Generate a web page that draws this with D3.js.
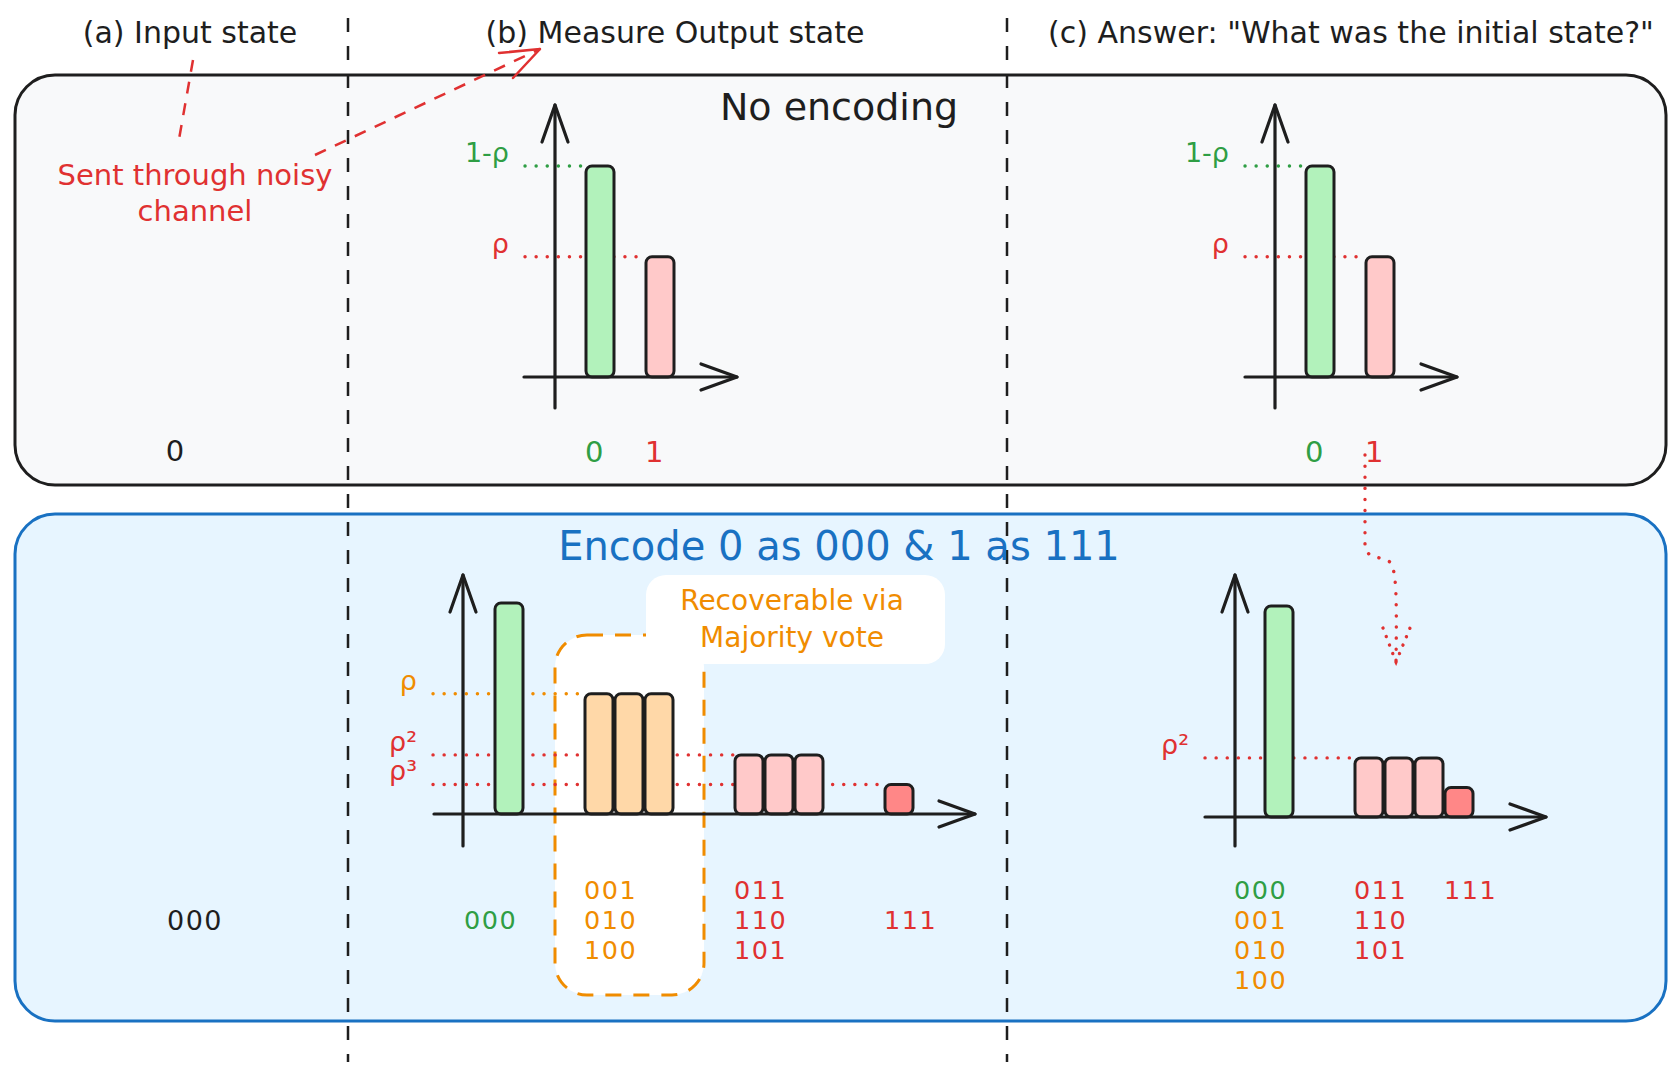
<!DOCTYPE html>
<html>
<head>
<meta charset="utf-8">
<script src="https://cdn.jsdelivr.net/npm/d3@7"></script>
<style>
  html, body { margin: 0; background: #ffffff; }
  svg { display: block; }
  text { font-family: "DejaVu Sans", sans-serif; }
</style>
</head>
<body>
<svg id="chart" width="1680" height="1083"></svg>
<script>
// Headings
const columnTitles = ['(a) Input state', '(b) Measure Output state', '(c) Answer: "What was the initial state?"'];
const rowTitles = ['No encoding', 'Encode 0 as 000 & 1 as 111'];
const inputStates = ['0', '000'];
const noiseNote = ['Sent through noisy', 'channel'];
const voteNote = ['Recoverable via', 'Majority vote'];

// No encoding: one bit after the noisy channel
const plainStates = ['0', '1'];
const plainProb = [1.0, 0.57];          // bar height relative to the tallest bar
const plainKind = ['ok', 'err'];
const plainGroup = [0, 1];
const plainLevelText = ['1-ρ', 'ρ'];
const plainLevelBar = ['0', '1'];

// Encoded: three bits after the noisy channel
const codeStates = ['000', '001', '010', '100', '011', '110', '101', '111'];
const codeProb = [1.0, 0.57, 0.57, 0.57, 0.28, 0.28, 0.28, 0.14];
const codeKind = ['ok', 'fix', 'fix', 'fix', 'err', 'err', 'err', 'err3'];
const codeGroup = [0, 1, 1, 1, 2, 2, 2, 3];
const codeLevelText = ['ρ', 'ρ²', 'ρ³'];
const codeLevelBar = ['001', '011', '111'];

// After the majority vote
const voteStates = ['000', '011', '110', '101', '111'];
const voteProb = [1.0, 0.28, 0.28, 0.28, 0.14];
const voteGroup = [0, 1, 1, 1, 1];
const voteLabelCols = [['000', '001', '010', '100'], ['011', '110', '101'], ['111']];
const voteLabelBar = ['000', '011', '111'];
const voteLevelText = ['ρ²'];
const voteLevelBar = ['011'];

const INK = '#1e1e1e';
const SLOT = 30, BAR_H = 211, ROW = 30;
const fillOf = d3.scaleOrdinal().domain(['ok', 'fix', 'err', 'err3']).range(['#b2f2bb', '#ffd8a8', '#ffc9c9', '#ff8787']);
const inkOf = d3.scaleOrdinal().domain(['ok', 'fix', 'err', 'err3']).range(['#2f9e44', '#f08c00', '#e03131', '#e03131']);
const kindOf = new Map();
plainStates.forEach((s, i) => kindOf.set('p' + s, plainKind[i]));
codeStates.forEach((s, i) => kindOf.set(s, codeKind[i]));

const svg = d3.select('#chart');

// Row boxes
svg.append('rect').attr('x', 15).attr('y', 75).attr('width', 1651).attr('height', 410)
  .attr('rx', 40).attr('fill', '#f8f9fa').attr('stroke', INK).attr('stroke-width', 3);
svg.append('rect').attr('x', 15).attr('y', 514).attr('width', 1651).attr('height', 507)
  .attr('rx', 40).attr('fill', '#e7f5ff').attr('stroke', '#1971c2').attr('stroke-width', 3);

// Column separators
[348, 1007].forEach(cx => {
  svg.append('line').attr('x1', cx).attr('x2', cx).attr('y1', 18).attr('y2', 1062)
    .attr('stroke', INK).attr('stroke-width', 2.5).attr('stroke-dasharray', '14 14');
});

// Column titles
const titleX = [190, 675, 1351];
columnTitles.forEach((t, i) => {
  svg.append('text').attr('x', titleX[i]).attr('y', 32).attr('text-anchor', 'middle')
    .attr('dominant-baseline', 'central').attr('font-size', 30).attr('fill', INK).text(t);
});

// Row titles
svg.append('text').attr('x', 839).attr('y', 107).attr('text-anchor', 'middle').attr('dominant-baseline', 'central')
  .attr('font-size', 38).attr('fill', INK).text(rowTitles[0]);
svg.append('text').attr('x', 839).attr('y', 546).attr('text-anchor', 'middle').attr('dominant-baseline', 'central')
  .attr('font-size', 40).attr('fill', '#1971c2').text(rowTitles[1]);

// Input states
svg.append('text').attr('x', 175).attr('y', 451).attr('text-anchor', 'middle').attr('dominant-baseline', 'central')
  .attr('font-size', 29).attr('fill', INK).text(inputStates[0]);
svg.append('text').attr('x', 195).attr('y', 920).attr('text-anchor', 'middle').attr('dominant-baseline', 'central')
  .attr('font-size', 27).attr('letter-spacing', 1.5).attr('fill', INK).text(inputStates[1]);

// Noisy channel note and its dashed arrows
const red = '#e03131';
noiseNote.forEach((t, i) => {
  svg.append('text').attr('x', 195).attr('y', 175 + i * 36).attr('text-anchor', 'middle').attr('dominant-baseline', 'central')
    .attr('font-size', 29).attr('fill', red).text(t);
});
svg.append('line').attr('x1', 193).attr('y1', 60).attr('x2', 178).attr('y2', 145)
  .attr('stroke', red).attr('stroke-width', 2.5).attr('stroke-dasharray', '12 10');
svg.append('line').attr('x1', 315).attr('y1', 155).attr('x2', 540).attr('y2', 49)
  .attr('stroke', red).attr('stroke-width', 2.5).attr('stroke-dasharray', '12 10');
svg.append('path').attr('d', 'M499,53 L540,49 L513,78').attr('fill', 'none')
  .attr('stroke', red).attr('stroke-width', 2.5).attr('stroke-linecap', 'round').attr('stroke-linejoin', 'round');

// Dotted arrow from the top "1" down to the corrected chart
svg.append('path').attr('d', 'M1365,455 L1365,547 C1366,558 1380,556 1390,562 C1396,570 1397,590 1396,662')
  .attr('fill', 'none').attr('stroke', red).attr('stroke-width', 3.4).attr('stroke-linecap', 'round')
  .attr('stroke-dasharray', '0.1 11');
svg.append('path').attr('d', 'M1383,628 L1396,662 L1410,628').attr('fill', 'none')
  .attr('stroke', red).attr('stroke-width', 3.4).attr('stroke-linecap', 'round').attr('stroke-dasharray', '0.1 9');

function slotsOf(group, gap) {
  const out = [];
  let s = 0;
  group.forEach((gr, i) => {
    if (i > 0) s += gr !== group[i - 1] ? gap + 1 : 1;
    out.push(s);
  });
  return out;
}

function drawChart(c) {
  const g = svg.append('g');
  const slot = slotsOf(c.group, c.gap);
  const n = slot[slot.length - 1] + 1;
  const x = d3.scaleBand().domain(d3.range(n)).range([c.barX, c.barX + n * SLOT]);
  const y = d3.scaleLinear().domain([0, 1]).range([c.baseY, c.baseY - BAR_H]);
  const bars = c.states.map((k, i) => ({ key: k, value: c.prob[i], kind: c.kind[i], slot: slot[i] }));
  const byKey = new Map(bars.map(b => [b.key, b]));

  if (c.before) c.before(g, x, y, byKey);

  // dotted level guides
  c.levelText.forEach((t, i) => {
    const b = byKey.get(c.levelBar[i]);
    const ly = y(b.value);
    g.append('line').attr('x1', c.axisX - 30).attr('x2', x(b.slot)).attr('y1', ly).attr('y2', ly)
      .attr('stroke', inkOf(b.kind)).attr('stroke-width', 3.4).attr('stroke-linecap', 'round')
      .attr('stroke-dasharray', '0.1 11');
    g.append('text').attr('x', c.axisX - 46).attr('y', ly - 4).attr('text-anchor', 'end')
      .attr('font-size', 27).attr('fill', inkOf(b.kind)).text(t);
  });

  // bars
  g.selectAll('rect.bar').data(bars).join('rect').attr('class', 'bar')
    .attr('x', d => x(d.slot) + 1).attr('width', x.bandwidth() - 2)
    .attr('y', d => y(d.value)).attr('height', d => y(0) - y(d.value))
    .attr('rx', 6).attr('fill', d => fillOf(d.kind)).attr('stroke', INK).attr('stroke-width', 3);

  // hand-drawn style axes with open arrow heads
  const ax = g.append('g').attr('fill', 'none').attr('stroke', INK).attr('stroke-width', 3.2)
    .attr('stroke-linecap', 'round').attr('stroke-linejoin', 'round');
  ax.append('line').attr('x1', c.axisX).attr('x2', c.axisX).attr('y1', c.yBottom).attr('y2', c.yTop);
  ax.append('path').attr('d', `M${c.axisX - 13},${c.yTop + 37} L${c.axisX},${c.yTop} L${c.axisX + 13},${c.yTop + 37}`);
  ax.append('line').attr('x1', c.xLeft).attr('x2', c.xRight).attr('y1', y(0)).attr('y2', y(0));
  ax.append('path').attr('d', `M${c.xRight - 36},${y(0) - 13} L${c.xRight},${y(0)} L${c.xRight - 36},${y(0) + 13}`);

  // state labels under the axis
  c.labelCols.forEach((col, ci) => {
    const b = byKey.get(c.labelBar[ci]);
    const lx = x(b.slot) + (ci === 0 ? c.firstShift * SLOT : 0);
    const y0 = c.labelAlign === 'center' ? c.labelY - (col.length - 1) / 2 * ROW : c.labelY;
    col.forEach((s, ri) => {
      g.append('text').attr('x', lx).attr('y', y0 + ri * ROW).attr('dominant-baseline', 'central')
        .attr('font-size', c.labelSize || 25.5).attr('letter-spacing', 1.5)
        .attr('fill', inkOf(kindOf.get(c.labelKey ? c.labelKey(s) : s))).text(s);
    });
  });
}

const plainCfg = {
  states: plainStates, prob: plainProb, kind: plainKind, group: plainGroup, gap: 1,
  levelText: plainLevelText, levelBar: plainLevelBar,
  labelCols: plainStates.map(s => [s]), labelBar: plainStates, labelKey: s => 'p' + s, labelSize: 29,
  labelAlign: 'top', labelY: 452, firstShift: 0, baseY: 377, yTop: 105, yBottom: 408
};
drawChart(Object.assign({}, plainCfg, { axisX: 555, barX: 585, xLeft: 524, xRight: 737 }));
drawChart(Object.assign({}, plainCfg, { axisX: 1275, barX: 1305, xLeft: 1245, xRight: 1457 }));

const codeCols = d3.groups(codeStates.map((s, i) => [codeGroup[i], s]), d => d[0]).map(d => d[1].map(e => e[1]));
drawChart({
  states: codeStates, prob: codeProb, kind: codeKind, group: codeGroup, gap: 2,
  levelText: codeLevelText, levelBar: codeLevelBar,
  labelCols: codeCols, labelBar: codeCols.map(c => c[0]),
  labelAlign: 'center', labelY: 920, firstShift: -1,
  axisX: 463, barX: 494, baseY: 814, yTop: 575, yBottom: 846, xLeft: 434, xRight: 975,
  before: (g, x, y, byKey) => {
    // white highlight around the single-flip states, plus the note box
    const first = byKey.get('001'), last = byKey.get('100');
    const x0 = x(first.slot) - 29, x1 = x(last.slot) + SLOT + 30;
    g.append('rect').attr('x', x0).attr('y', 635).attr('width', x1 - x0).attr('height', 360)
      .attr('rx', 32).attr('fill', '#ffffff').attr('stroke', '#f08c00').attr('stroke-width', 3)
      .attr('stroke-dasharray', '16 12');
    g.append('rect').attr('x', 646).attr('y', 575).attr('width', 299).attr('height', 89)
      .attr('rx', 20).attr('fill', '#ffffff');
    voteNote.forEach((t, i) => {
      g.append('text').attr('x', 792).attr('y', 600 + i * 37).attr('text-anchor', 'middle')
        .attr('dominant-baseline', 'central').attr('font-size', 28).attr('fill', '#f08c00').text(t);
    });
  }
});

drawChart({
  states: voteStates, prob: voteProb, kind: voteStates.map(s => codeKind[codeStates.indexOf(s)]),
  group: voteGroup, gap: 2,
  levelText: voteLevelText, levelBar: voteLevelBar,
  labelCols: voteLabelCols, labelBar: voteLabelBar,
  labelAlign: 'top', labelY: 890, firstShift: -1,
  axisX: 1235, barX: 1264, baseY: 817, yTop: 575, yBottom: 846, xLeft: 1205, xRight: 1546
});
</script>
</body>
</html>
